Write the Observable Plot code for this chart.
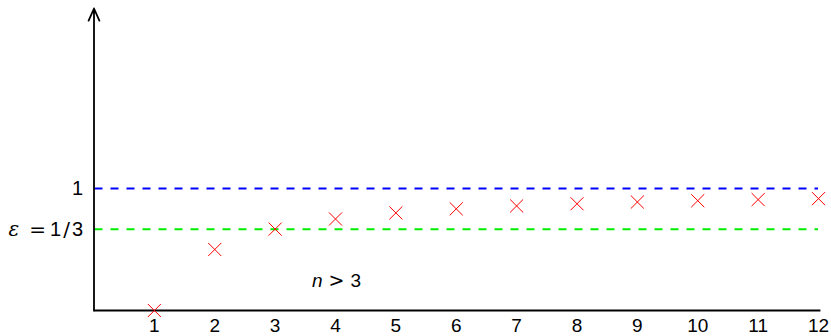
<!DOCTYPE html>
<html>
<head>
<meta charset="utf-8">
<script src="https://cdn.jsdelivr.net/npm/d3@7"></script>
<script src="https://cdn.jsdelivr.net/npm/@observablehq/plot@0.6"></script>
<style>
  html, body { margin: 0; padding: 0; background: #fff; }
  #chart svg { display: block; }
</style>
</head>
<body>
<div id="chart"></div>
<script>
// Data
const nValues = [1, 2, 3, 4, 5, 6, 7, 8, 9, 10, 11, 12];
const seqValues = [0, 0.5, 0.667, 0.75, 0.8, 0.833, 0.857, 0.875, 0.889, 0.9, 0.909, 0.917];
const refLines = [1, 0.667];
const refColors = ["#0000ff", "#00ee00"];
const yTickValues = [1, 0.667];
const yTickLabels = ["1", "ε = 1/3"];
const noteText = "n > 3";
const noteX = 4;
const noteY = 0.24;

const points = nValues.map((n, i) => ({n, v: seqValues[i]}));
const font = "'Liberation Sans', Arial, sans-serif";
const symFont = "'DejaVu Sans', sans-serif";
const serifFont = "'DejaVu Serif', serif";

const chart = Plot.plot({
  width: 831,
  height: 336,
  marginLeft: 93.5,
  marginRight: 13,
  marginTop: 8,
  marginBottom: 26,
  style: {fontFamily: font, background: "#fff"},
  x: {domain: [0, 12], axis: null},
  y: {domain: [0, 2.4754], axis: null},
  marks: [
    // reference lines
    Plot.ruleY(refLines.map((v, i) => ({v, c: refColors[i]})), {
      y: "v", x1: 0, x2: 12, stroke: "c", strokeWidth: 2, strokeDasharray: "8,8", strokeDashoffset: -1
    }),
    // x axis line
    Plot.ruleY([0], {x1: 0, x2: 12.04, stroke: "#000", strokeWidth: 1.8}),
    // y axis arrow
    Plot.arrow([{x: 0, y1: 0, y2: 2.4754}], {
      x: "x", y1: "y1", y2: "y2", stroke: "#000", strokeWidth: 1.8,
      headLength: 11, headAngle: 48, insetEnd: 0, insetStart: 0
    }),
    // x tick labels
    Plot.axisX({ticks: nValues, tickSize: 0, tickPadding: 8, fontSize: 19, tickFormat: d => String(d), stroke: null}),
    // y tick labels
    Plot.axisY({ticks: yTickValues, tickSize: 0, tickPadding: 11, fontSize: 20,
      tickFormat: d => yTickLabels[yTickValues.indexOf(d)]}),
    // sequence points
    Plot.dot(points, {x: "n", y: "v", symbol: "times", r: 6, stroke: "#ff0000", strokeWidth: 1}),
    // annotation n > 3
    Plot.text([{x: noteX, y: noteY}], {x: "x", y: "y", text: () => noteText, fontSize: 19,
      textAnchor: "middle", dx: 1, fill: "#000"})
  ]
});

// Typeset mixed-font labels (math-style symbols) with tspans
function richify(el, parts) {
  while (el.firstChild) el.removeChild(el.firstChild);
  for (const p of parts) {
    const ts = document.createElementNS("http://www.w3.org/2000/svg", "tspan");
    ts.textContent = p.t;
    if (p.family) ts.setAttribute("font-family", p.family);
    if (p.italic) ts.setAttribute("font-style", "italic");
    el.appendChild(ts);
  }
}
chart.querySelectorAll("text").forEach(el => {
  const s = el.textContent;
  if (s === yTickLabels[1]) {
    richify(el, [
      {t: "ε", family: serifFont, italic: true},
      {t: "\u2002=\u2009", family: symFont},
      {t: "1"},
      {t: "\u200A/\u200A", family: symFont},
      {t: "3"}
    ]);
  } else if (s === noteText) {
    richify(el, [
      {t: "n", italic: true},
      {t: " > ", family: symFont},
      {t: "3"}
    ]);
  }
});

document.getElementById("chart").appendChild(chart);
</script>
</body>
</html>
